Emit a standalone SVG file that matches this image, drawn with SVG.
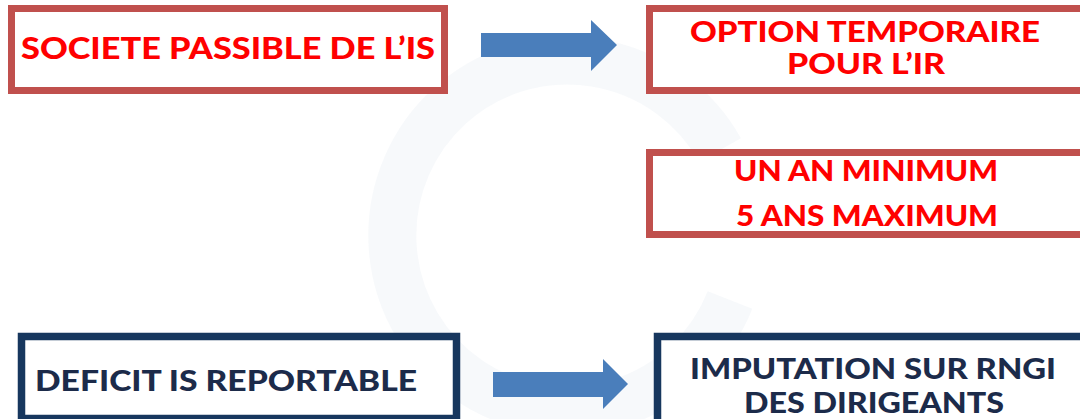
<svg xmlns="http://www.w3.org/2000/svg" width="1080" height="419" viewBox="0 0 1080 419">
  <style>
    .red-box { fill: #ffffff; stroke: #c0504d; stroke-width: 7; }
    .navy-box { fill: #ffffff; stroke: #17375e; stroke-width: 7.5; }
    .red-text { font-family: Lato, "Open Sans", "Liberation Sans", sans-serif; font-weight: 900; fill: #ff0000; }
    .navy-text { font-family: Lato, "Open Sans", "Liberation Sans", sans-serif; font-weight: 900; fill: #1c2b4a; }
    .arrow { fill: #4a7ebb; }
  </style>

  <rect x="0" y="0" width="1080" height="419" fill="#ffffff"/>

  <!-- faint background emblem -->
  <g id="emblem" fill="none" stroke="#f3f6f9" stroke-width="48" opacity="0.7">
    <path d="M 720 150 A 175 175 0 1 0 730 300"/>
  </g>

  <g id="societe-is">
    <rect class="red-box" x="11.5" y="8.5" width="433" height="82"/>
    <text class="red-text" x="21" y="59" font-size="30" textLength="414" lengthAdjust="spacingAndGlyphs">SOCIETE PASSIBLE DE L’IS</text>
  </g>

  <g id="option-ir">
    <rect class="red-box" x="649.5" y="8.5" width="440" height="82"/>
    <text class="red-text" x="690" y="42" font-size="28" textLength="350" lengthAdjust="spacingAndGlyphs">OPTION TEMPORAIRE</text>
    <text class="red-text" x="787" y="74" font-size="28" textLength="158" lengthAdjust="spacingAndGlyphs">POUR L’IR</text>
  </g>

  <g id="duree">
    <rect class="red-box" x="649.5" y="152.5" width="440" height="82"/>
    <text class="red-text" x="734" y="181" font-size="29" textLength="264" lengthAdjust="spacingAndGlyphs">UN AN MINIMUM</text>
    <text class="red-text" x="736" y="226" font-size="29" textLength="262" lengthAdjust="spacingAndGlyphs">5 ANS MAXIMUM</text>
  </g>

  <g id="deficit">
    <rect class="navy-box" x="21.5" y="336.5" width="435" height="82"/>
    <text class="navy-text" x="35" y="391" font-size="29" textLength="382" lengthAdjust="spacingAndGlyphs">DEFICIT IS REPORTABLE</text>
  </g>

  <g id="imputation">
    <rect class="navy-box" x="657.5" y="336.5" width="440" height="95"/>
    <text class="navy-text" x="690" y="379" font-size="29" textLength="366" lengthAdjust="spacingAndGlyphs">IMPUTATION SUR RNGI</text>
    <text class="navy-text" x="744" y="413" font-size="29" textLength="260" lengthAdjust="spacingAndGlyphs">DES DIRIGEANTS</text>
  </g>

  <g id="connectors">
    <polygon class="arrow" points="481,33 591,33 591,20 617,45 591,71 591,57 481,57"/>
    <polygon class="arrow" points="493,372 603,372 603,359 628,384 603,409 603,397 493,397"/>
  </g>
</svg>
